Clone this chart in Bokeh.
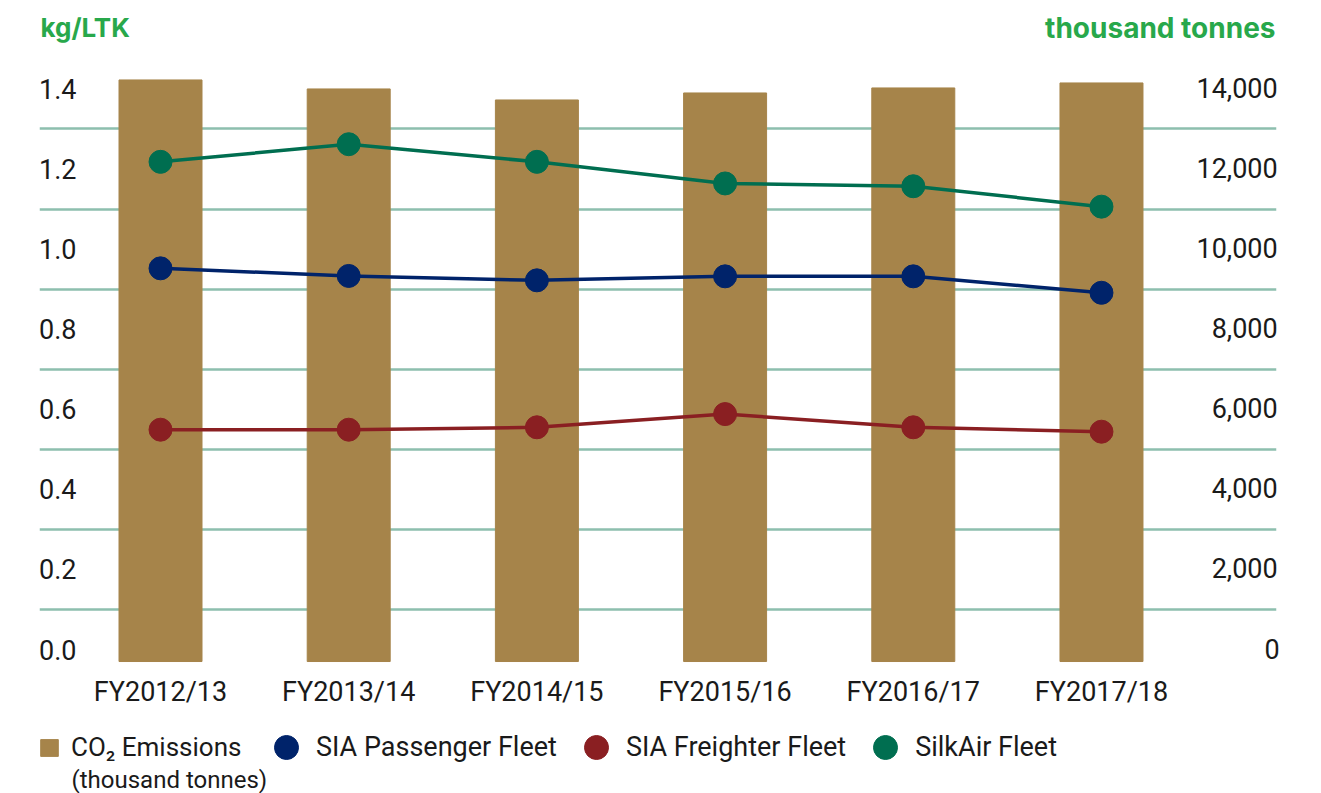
import numpy as np
from bokeh.plotting import figure
from bokeh.models import (Range1d, LinearAxis, FixedTicker, Legend, LegendItem, Label)
from bokeh.embed import file_html
from bokeh.resources import INLINE

# ---- data ----
categories = ["FY2012/13", "FY2013/14", "FY2014/15", "FY2015/16", "FY2016/17", "FY2017/18"]
co2_emissions = [14225, 14000, 13725, 13900, 14025, 14150]          # thousand tonnes
sia_passenger = [0.952, 0.933, 0.922, 0.932, 0.932, 0.891]          # kg/LTK
sia_freighter = [0.549, 0.549, 0.555, 0.588, 0.555, 0.544]
silkair = [1.218, 1.262, 1.218, 1.164, 1.157, 1.106]
left_ticks = [0.0, 0.2, 0.4, 0.6, 0.8, 1.0, 1.2, 1.4]
left_tick_labels = ["0.0", "0.2", "0.4", "0.6", "0.8", "1.0", "1.2", "1.4"]
right_ticks = [0, 2000, 4000, 6000, 8000, 10000, 12000, 14000]
right_tick_labels = ["0", "2,000", "4,000", "6,000", "8,000", "10,000", "12,000", "14,000"]
grid_values = [0.1, 0.3, 0.5, 0.7, 0.9, 1.1, 1.3]
bar_baseline = -300   # thousand tonnes, bars start slightly below the 0 label

xs = np.arange(len(categories))

BAR = "#a6844a"
C_PASS = "#00236a"
C_FREI = "#8a1f22"
C_SILK = "#006e50"
GREEN = "#28a84b"
GRID = "#8dbfae"
TXT = "#1a1a1a"
FONT = "Roboto"
FS_TICK = "27px"

p = figure(width=1321, height=793, output_backend="svg", toolbar_location=None,
           x_range=Range1d(-0.643, 5.930), y_range=Range1d(-0.3596, 1.6209),
           min_border_left=39, min_border_right=45, min_border_top=0, min_border_bottom=0)
p.extra_y_ranges = {"right": Range1d(-3596, 16209)}
p.outline_line_color = None
p.background_fill_color = "white"
p.xgrid.visible = False
p.ygrid.ticker = FixedTicker(ticks=grid_values)
p.ygrid.grid_line_color = GRID
p.ygrid.grid_line_width = 2.6

bars = p.vbar(x=xs, top=co2_emissions, bottom=bar_baseline, width=0.441, color=BAR,
              y_range_name="right")

p.line(xs, sia_passenger, line_color=C_PASS, line_width=3.5)
p.line(xs, sia_freighter, line_color=C_FREI, line_width=3.5)
p.line(xs, silkair, line_color=C_SILK, line_width=3.5)
s_pass = p.scatter(xs, sia_passenger, size=23, color=C_PASS)
s_frei = p.scatter(xs, sia_freighter, size=23, color=C_FREI)
s_silk = p.scatter(xs, silkair, size=23, color=C_SILK)


def style_axis(ax, standoff):
    ax.axis_line_color = None
    ax.major_tick_line_color = None
    ax.minor_tick_line_color = None
    ax.major_tick_out = 0
    ax.major_tick_in = 0
    ax.minor_tick_out = 0
    ax.major_label_standoff = standoff
    ax.major_label_text_font = FONT
    ax.major_label_text_font_size = FS_TICK
    ax.major_label_text_color = TXT


# x axis (labels drawn above the legend area)
xa = p.xaxis[0]
xa.ticker = FixedTicker(ticks=list(xs))
xa.major_label_overrides = {int(i): c for i, c in zip(xs, categories)}
style_axis(xa, -118)

# left axis
ya = p.yaxis[0]
ya.ticker = FixedTicker(ticks=left_ticks)
ya.major_label_overrides = {t: s for t, s in zip(left_ticks, left_tick_labels)}
style_axis(ya, -37)

# right axis (labels right-aligned by figure-space padding)
ra = LinearAxis(y_range_name="right", ticker=FixedTicker(ticks=right_ticks))
FSP = "\u2007"
PSP = "\u2008"
pad = {0: FSP * 4 + PSP, 2000: FSP, 4000: FSP, 6000: FSP, 8000: FSP, 10000: "", 12000: "", 14000: ""}
ra.major_label_overrides = {t: pad[t] + s for t, s in zip(right_ticks, right_tick_labels)}
style_axis(ra, -80)
p.add_layout(ra, "right")

# unit titles
p.add_layout(Label(x=1, y=766, x_units="screen", y_units="screen", text="kg/LTK",
                   text_font="Inter", text_font_style="bold", text_font_size="26px",
                   text_color=GREEN, text_align="left", text_baseline="alphabetic"))
p.add_layout(Label(x=1236, y=766, x_units="screen", y_units="screen", text="thousand tonnes",
                   text_font="Inter", text_font_style="bold", text_font_size="28px",
                   text_color=GREEN, text_align="right", text_baseline="alphabetic"))

# legends
leg1 = Legend(items=[LegendItem(label="CO\u2082 Emissions", renderers=[bars])],
              location=(-1, 31), orientation="horizontal",
              glyph_width=22, glyph_height=21, label_standoff=11, padding=0, margin=0,
              border_line_alpha=0, background_fill_alpha=0,
              label_text_font=FONT, label_text_font_size="26px", label_text_color=TXT)
leg2 = Legend(items=[LegendItem(label="SIA Passenger Fleet", renderers=[s_pass]),
                     LegendItem(label="SIA Freighter Fleet", renderers=[s_frei]),
                     LegendItem(label="SilkAir Fleet", renderers=[s_silk])],
              location=(217, 16), orientation="horizontal",
              glyph_width=60, glyph_height=60, label_standoff=-1, spacing=9, padding=0, margin=0,
              border_line_alpha=0, background_fill_alpha=0,
              label_text_font=FONT, label_text_font_size="27px", label_text_color=TXT)
p.add_layout(leg1, "center")
p.add_layout(leg2, "center")
p.add_layout(Label(x=32, y=14, x_units="screen", y_units="screen", text="(thousand tonnes)",
                   text_font=FONT, text_font_size="24px", text_color=TXT,
                   text_align="left", text_baseline="middle"))

open("out.html", "w").write(file_html(p, INLINE))
